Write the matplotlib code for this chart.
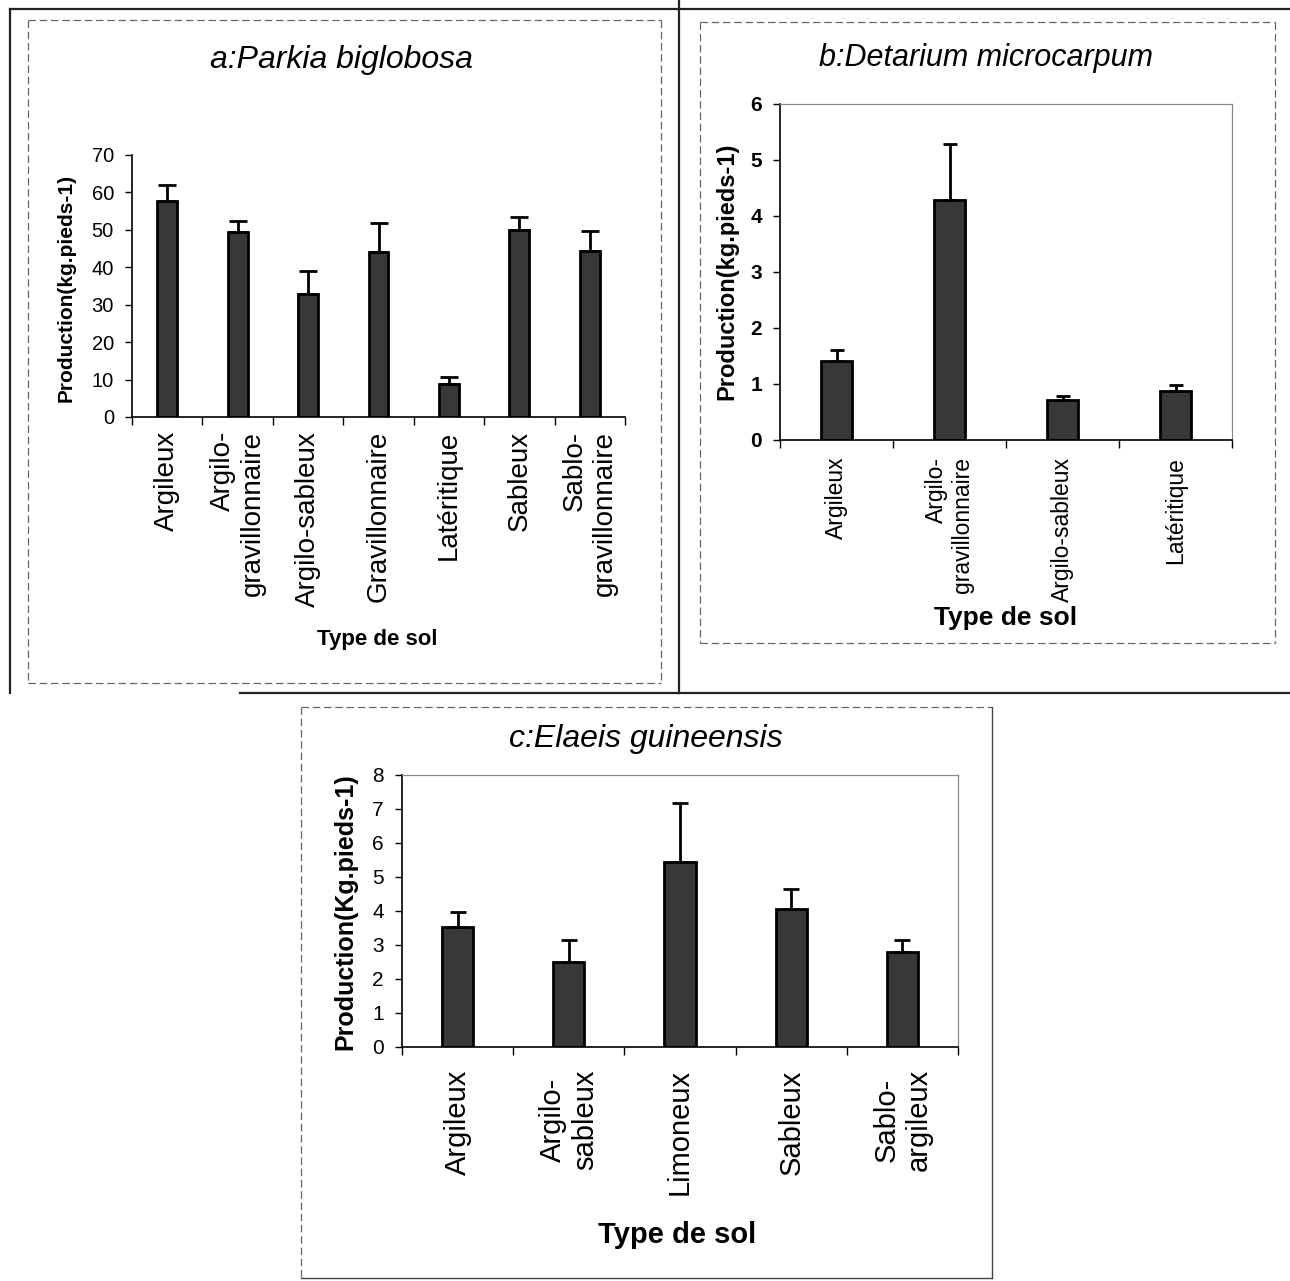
import numpy as np
import matplotlib
matplotlib.use("Agg")
import matplotlib.pyplot as plt
from matplotlib.lines import Line2D

plt.rcParams['font.family'] = ['Liberation Sans', 'DejaVu Sans']

# panel a : Parkia biglobosa
sols_a = ['Argileux', 'Argilo-\ngravillonnaire', 'Argilo-sableux', 'Gravillonnaire',
          'Latéritique', 'Sableux', 'Sablo-\ngravillonnaire']
prod_a = [57.8, 49.3, 32.8, 44.0, 8.7, 50.0, 44.4]
err_a = [4.1, 3.1, 6.2, 7.9, 1.9, 3.4, 5.3]

# panel b : Detarium microcarpum
sols_b = ['Argileux', 'Argilo-\ngravillonnaire', 'Argilo-sableux', 'Latéritique']
prod_b = [1.41, 4.29, 0.72, 0.87]
err_b = [0.19, 0.99, 0.06, 0.11]

# panel c : Elaeis guineensis
sols_c = ['Argileux', 'Argilo-\nsableux', 'Limoneux', 'Sableux', 'Sablo-\nargileux']
prod_c = [3.52, 2.50, 5.45, 4.07, 2.78]
err_c = [0.46, 0.65, 1.74, 0.59, 0.36]

W, H = 1290, 1281
fig = plt.figure(figsize=(W / 100, H / 100), dpi=100)


def fx(px):
    return px / W


def fy(py):
    return 1 - py / H


def axes_px(l, t, r, b):
    return fig.add_axes([fx(l), fy(b), (r - l) / W, (b - t) / H])


def line_px(x0, y0, x1, y1, **kw):
    fig.add_artist(Line2D([fx(x0), fx(x1)], [fy(y0), fy(y1)], transform=fig.transFigure, **kw))


def draw_bars(ax, sols, prod, err, ymax, capsize, xsize, ysize, xpad, malign, box):
    n = len(sols)
    x = np.arange(n)
    ax.bar(x, prod, width=0.28, color='#383838', edgecolor='black', linewidth=2, zorder=2)
    ax.errorbar(x, prod, yerr=[np.zeros(n), err], fmt='none', ecolor='black',
                elinewidth=2, capsize=capsize, capthick=2, zorder=3)
    ax.set_xlim(-0.5, n - 0.5)
    ax.set_ylim(0, ymax)
    ax.set_xticks(x)
    ax.set_xticklabels(sols, rotation=90, fontsize=xsize, multialignment=malign)
    ax.set_xticks(np.arange(n + 1) - 0.5, minor=True)
    ax.tick_params(axis='x', which='major', length=0, pad=xpad)
    ax.tick_params(axis='x', which='minor', length=6, width=1, direction='out')
    ax.tick_params(axis='y', length=5, width=1, direction='out', pad=8, labelsize=ysize)
    ax.set_yticks(np.arange(0, ymax + 1, 10 if ymax > 10 else 1))
    ax.spines['left'].set_linewidth(1.2)
    ax.spines['bottom'].set_linewidth(1.2)
    if box:
        for s in ['top', 'right']:
            ax.spines[s].set_color('#888888')
            ax.spines[s].set_linewidth(0.9)
    else:
        ax.spines['top'].set_visible(False)
        ax.spines['right'].set_visible(False)


# panel a
ax_a = axes_px(132, 155, 625, 417)
draw_bars(ax_a, sols_a, prod_a, err_a, 70, 6.5, 20, 14.5, 10, 'right', False)
fig.text(fx(341), fy(60), 'a:Parkia biglobosa', fontsize=23, style='italic', ha='center', va='center')
fig.text(fx(66), fy(288), 'Production(kg.pieds-1)', fontsize=15, fontweight='bold',
         rotation=90, ha='center', va='center')
fig.text(fx(377), fy(640), 'Type de sol', fontsize=16, fontweight='bold', ha='center', va='center')

# panel b
ax_b = axes_px(780, 104, 1232, 440)
draw_bars(ax_b, sols_b, prod_b, err_b, 6, 5, 16.5, 15, 12, 'right', True)
for t in ax_b.get_yticklabels():
    t.set_fontweight('bold')
fig.text(fx(986), fy(58), 'b:Detarium microcarpum', fontsize=22, style='italic', ha='center', va='center')
fig.text(fx(727), fy(271), 'Production(kg.pieds-1)', fontsize=17, fontweight='bold',
         rotation=90, ha='center', va='center')
fig.text(fx(1006), fy(618), 'Type de sol', fontsize=19, fontweight='bold', ha='center', va='center')

# panel c
ax_c = axes_px(402, 775, 958, 1047)
draw_bars(ax_c, sols_c, prod_c, err_c, 8, 5.5, 21, 15, 16, 'center', True)
fig.text(fx(646), fy(739), 'c:Elaeis guineensis', fontsize=23, style='italic', ha='center', va='center')
fig.text(fx(345), fy(912), 'Production(Kg.pieds-1)', fontsize=18, fontweight='bold',
         rotation=90, ha='center', va='center')
fig.text(fx(677), fy(1235), 'Type de sol', fontsize=21, fontweight='bold', ha='center', va='center')

# page frame lines
solid = dict(color='#222222', linewidth=1.6)
line_px(10, 9, 1290, 9, **solid)
line_px(10, 9, 10, 693, **solid)
line_px(679, 0, 679, 693, **solid)
line_px(240, 693, 1290, 693, **solid)

dash = dict(color='#666666', linewidth=0.9, linestyle=(0, (6, 3)))
# box a
line_px(28, 20, 661, 20, **dash)
line_px(28, 20, 28, 683, **dash)
line_px(661, 20, 661, 683, **dash)
line_px(28, 683, 661, 683, **dash)
# box b
line_px(700, 22, 1275, 22, **dash)
line_px(700, 22, 700, 643, **dash)
line_px(1275, 22, 1275, 643, **dash)
line_px(700, 643, 1275, 643, **dash)
# box c
line_px(301, 707, 992, 707, **dash)
line_px(301, 707, 301, 1278, **dash)
line_px(992, 707, 992, 1278, color='#444444', linewidth=1.0)
line_px(301, 1278, 992, 1278, color='#444444', linewidth=1.0)

fig.savefig('out.png', dpi=100, facecolor='white')
